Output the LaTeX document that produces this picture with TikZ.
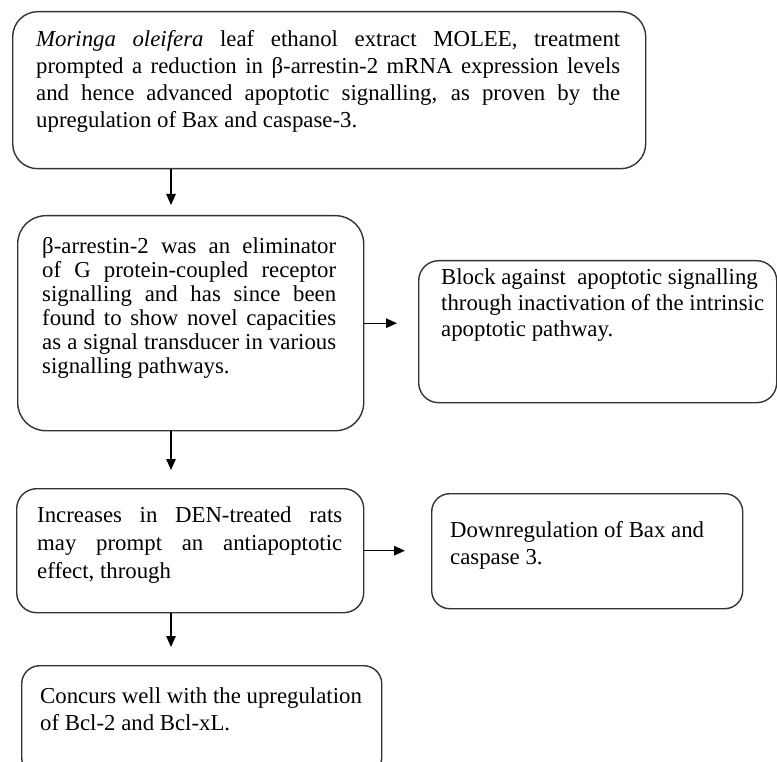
\documentclass[tikz,border=0pt]{standalone}
\usepackage{fontspec}
\setmainfont{Liberation Serif}
\usetikzlibrary{arrows.meta}
% one justified line (spaces stretch to the full width) and one ragged line
\newcommand\justline[1]{\hbox to\hsize{#1}}
\newcommand\plainline[1]{\hbox{#1}}
\begin{document}
\begin{tikzpicture}[x=1pt,y=-1pt,
  box/.style={draw=black!80, line width=1.4pt, inner sep=0pt, anchor=north west},
  txt/.style={inner sep=0pt, anchor=base west, font=\fontsize{22.8pt}{27pt}\selectfont},
  arr/.style={draw=black, line width=1.3pt, -{Triangle[length=11pt,width=9.5pt]}}]
\clip (0,0) rectangle (777,762);
\useasboundingbox (0,0) rectangle (777,762);

% boxes
\node[box, rounded corners=25pt, minimum width=633pt, minimum height=157pt] (b1) at (12,11) {};
\node[box, rounded corners=28pt, minimum width=346pt, minimum height=215pt] (b2) at (17,215) {};
\node[box, rounded corners=20pt, minimum width=358pt, minimum height=142pt] (b3) at (418,260) {};
\node[box, rounded corners=20pt, minimum width=347pt, minimum height=124pt] (b4) at (16,488) {};
\node[box, rounded corners=18pt, minimum width=311pt, minimum height=115pt] (b5) at (431,493) {};
\node[box, rounded corners=18pt, minimum width=360pt, minimum height=110pt] (b6) at (21,665) {};

% texts
\node[txt] (t1) at (36,47) {\vtop{\hsize=584pt\baselineskip=27pt
  \justline{\textit{Moringa oleifera} leaf ethanol extract MOLEE, treatment}
  \justline{prompted a reduction in β-arrestin-2 mRNA expression levels}
  \justline{and hence advanced apoptotic signalling, as proven by the}
  \plainline{upregulation of Bax and caspase-3.}}};

\node[txt] (t2) at (42,254) {\vtop{\hsize=294pt\baselineskip=24pt
  \justline{β-arrestin-2 was an eliminator}
  \justline{of G protein-coupled receptor}
  \justline{signalling and has since been}
  \justline{found to show novel capacities}
  \justline{as a signal transducer in various}
  \plainline{signalling pathways.}}};

\node[txt] (t3) at (441,285) {\vtop{\hsize=322pt\baselineskip=26pt
  \plainline{Block against\ \ apoptotic signalling}
  \plainline{through inactivation of the intrinsic}
  \plainline{apoptotic pathway.}}};

\node[txt] (t4) at (37,522) {\vtop{\hsize=305pt\baselineskip=28pt
  \justline{Increases in DEN-treated rats}
  \justline{may prompt an antiapoptotic}
  \plainline{effect, through}}};

\node[txt] (t5) at (450,537) {\vtop{\hsize=270pt\baselineskip=27pt
  \plainline{Downregulation of Bax and}
  \plainline{caspase 3.}}};

\node[txt] (t6) at (40,703) {\vtop{\hsize=320pt\baselineskip=27pt
  \plainline{Concurs well with the upregulation}
  \plainline{of Bcl-2 and Bcl-xL.}}};

% connectors
\coordinate (ax) at (171,0);
\draw[arr, shorten >=10pt] (b1.south -| ax) -- (b2.north -| ax);
\draw[arr, shorten >=18pt] (b2.south -| ax) -- (b4.north -| ax);
\draw[arr, shorten >=18pt] (b4.south -| ax) -- (b6.north -| ax);
\draw[arr, shorten >=21pt] (b2.east) -- (b2.east -| b3.west);
\draw[arr, shorten >=26pt] (b4.east) -- (b4.east -| b5.west);
\end{tikzpicture}
\end{document}
